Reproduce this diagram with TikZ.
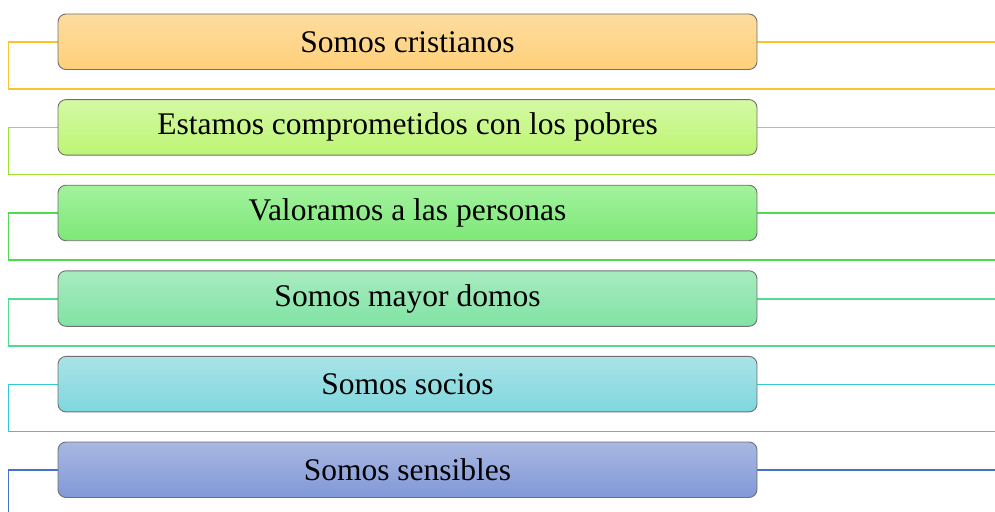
\documentclass[tikz,border=0pt]{standalone}
\usepackage{fontspec}
\setmainfont{Liberation Serif}
\definecolor{fa1}{HTML}{FDDC9E}\definecolor{fb1}{HTML}{FFD07A}\definecolor{ln1}{HTML}{FBC52A}
\definecolor{fa2}{HTML}{D4F9A3}\definecolor{fb2}{HTML}{BDF574}\definecolor{ln2}{HTML}{9EE22E}
\definecolor{fa3}{HTML}{A3F29D}\definecolor{fb3}{HTML}{7DE877}\definecolor{ln3}{HTML}{52D950}
\definecolor{fa4}{HTML}{A8EBC0}\definecolor{fb4}{HTML}{80E3A3}\definecolor{ln4}{HTML}{4EDC90}
\definecolor{fa5}{HTML}{AAE3E8}\definecolor{fb5}{HTML}{7ED8DD}\definecolor{ln5}{HTML}{33C8D4}
\definecolor{fa6}{HTML}{A9B8E2}\definecolor{fb6}{HTML}{8198D8}\definecolor{ln6}{HTML}{4472C4}
\definecolor{boxedge}{HTML}{707070}
\tikzset{
  itembox/.style={draw=boxedge, line width=0.9pt, rounded corners=8pt,
    minimum width=699pt, minimum height=55.5pt, inner sep=0pt,
    font=\fontsize{31.5}{36}\selectfont, text=black},
  bracket/.style={line width=1.5pt}
}
\begin{document}
\begin{tikzpicture}[x=1pt,y=-1pt]
\useasboundingbox (0,0) rectangle (995,511);
\fill[white] (0,0) rectangle (995,511);
\foreach \i/\t [count=\k from 0] in {1/Somos cristianos,2/Estamos comprometidos con los pobres,3/Valoramos a las personas,4/Somos mayor domos,5/Somos socios,6/Somos sensibles}{
  \pgfmathsetmacro{\top}{14+85.6*\k}
  \pgfmathsetmacro{\cy}{\top+28}
  \pgfmathsetmacro{\by}{\top+75}
  \coordinate (l\i) at (8.5,\cy);
  \coordinate (r\i) at (995,\cy);
  \coordinate (b\i) at (995,\by);
  \draw[bracket, draw=ln\i] (r\i) -- (l\i) |- (b\i);
  \node[itembox, top color=fa\i, bottom color=fb\i] (n\i) at (407.5,\top+27.75) {\raisebox{-1.5pt}{\t}};
}
\end{tikzpicture}
\end{document}
